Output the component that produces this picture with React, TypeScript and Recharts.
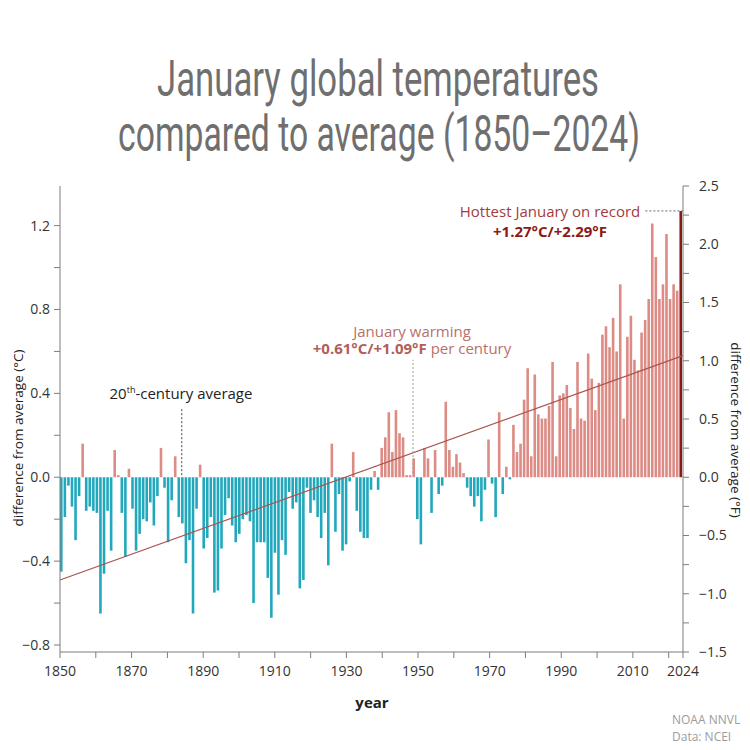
import { Bar, Cell, ComposedChart, ReferenceLine, XAxis, YAxis } from 'recharts';

// January anomalies vs 20th-century average, °C
const firstYear = 1850;
const anomalies = [
  -0.45, -0.19, -0.04, -0.14, -0.30, -0.09, 0.16, -0.16, -0.14, -0.16, // 1850s
  -0.17, -0.65, -0.46, -0.16, -0.35, 0.13, 0.01, -0.17, -0.38, 0.04, // 1860s
  -0.15, -0.35, -0.27, -0.20, -0.21, -0.12, -0.23, -0.09, 0.14, -0.05, // 1870s
  -0.31, -0.11, 0.10, -0.19, -0.22, -0.41, -0.30, -0.65, -0.15, 0.06, // 1880s
  -0.34, -0.29, -0.19, -0.55, -0.54, -0.34, -0.18, -0.10, -0.23, -0.31, // 1890s
  -0.27, -0.20, -0.18, -0.21, -0.60, -0.31, -0.31, -0.31, -0.48, -0.67, // 1900s
  -0.36, -0.56, -0.30, -0.37, -0.07, -0.15, -0.12, -0.53, -0.49, -0.05, // 1910s
  -0.17, -0.11, -0.19, -0.29, -0.17, -0.42, 0.16, -0.26, -0.08, -0.35, // 1920s
  -0.32, -0.02, 0.12, -0.16, -0.26, -0.29, -0.29, -0.06, 0.03, -0.06, // 1930s
  0.14, 0.19, 0.31, 0.12, 0.32, 0.21, 0.19, 0.01, 0.01, 0.09, // 1940s
  -0.20, -0.32, 0.14, 0.09, -0.17, 0.13, -0.08, -0.04, 0.36, 0.13, // 1950s
  0.05, 0.11, 0.07, 0.02, -0.05, -0.09, -0.14, -0.09, -0.21, -0.06, // 1960s
  0.18, -0.03, -0.19, 0.31, -0.08, 0.05, -0.01, 0.25, 0.12, 0.16, // 1970s
  0.37, 0.52, 0.10, 0.49, 0.30, 0.28, 0.28, 0.34, 0.55, 0.10, // 1980s
  0.39, 0.40, 0.44, 0.33, 0.23, 0.55, 0.28, 0.27, 0.59, 0.47, // 1990s
  0.32, 0.45, 0.68, 0.72, 0.62, 0.76, 0.60, 0.92, 0.28, 0.67, // 2000s
  0.77, 0.56, 0.51, 0.69, 0.75, 0.85, 1.21, 1.05, 0.85, 0.92, // 2010s
  1.16, 0.85, 0.92, 0.89, 1.27, // 2020s
];
const years = anomalies.map((_, i) => firstYear + i);
const recordYear = 2024;

// linear trend, +0.61°C per century
const trendYears = [1850, 2024];
const trendValues = [-0.49, 0.58];

const fDomain = [-1.5, 2.5];
const cDomain = fDomain.map((f) => f / 1.8);
const cTicks = [-0.8, -0.6, -0.4, -0.2, 0, 0.2, 0.4, 0.6, 0.8, 1.0, 1.2];
const cLabelled = [-0.8, -0.4, 0, 0.4, 0.8, 1.2];
const fTicks = [-1.5, -1.25, -1, -0.75, -0.5, -0.25, 0, 0.25, 0.5, 0.75, 1, 1.25, 1.5, 1.75, 2, 2.25, 2.5];
const fLabelled = [-1.5, -1, -0.5, 0, 0.5, 1, 1.5, 2, 2.5];
const yearTicks = [1850, 1860, 1870, 1880, 1890, 1900, 1910, 1920, 1930, 1940, 1950, 1960, 1970, 1980, 1990, 2000, 2010, 2020, 2024];
const yearLabelled = [1850, 1870, 1890, 1910, 1930, 1950, 1970, 1990, 2010, 2024];

const rows = years.map((year, i) => ({ year, value: anomalies[i] }));

const COLD = '#22a8bd';
const WARM = '#dc8b85';
const RECORD = '#8c1a14';
const AXIS = '#7d7d7d';
const FONT = "'Open Sans', 'Noto Sans', sans-serif";

const fmt = (v: number) => (v < 0 ? '\u2212' + Math.abs(v).toFixed(1) : v.toFixed(1));
const near = (list: number[], v: number) => list.some((t) => Math.abs(t - v) < 1e-6);

const tickStyle = { fill: '#333', fontSize: 14, fontFamily: FONT };

// condensed title: Roboto squeezed horizontally
const TITLE_SQUEEZE = 0.69;

function Note({ x, y, children, style }: { x: number; y: number; children: any; style?: any }) {
  return (
    <div
      style={{
        position: 'absolute',
        left: x,
        top: y,
        transform: 'translate(-50%, -50%)',
        whiteSpace: 'nowrap',
        fontFamily: FONT,
        fontSize: 15,
        lineHeight: 1,
        ...style,
      }}
    >
      {children}
    </div>
  );
}

export default function App() {
  return (
    <div style={{ position: 'absolute', left: 0, top: 0, width: 750, height: 750, background: '#fff' }}>
      <svg width={750} height={175} style={{ position: 'absolute', left: 0, top: 0 }}>
        <g transform={`translate(378 96) scale(${TITLE_SQUEEZE} 1)`}>
          <text x={0} y={0} textAnchor="middle" fontSize={50} fontFamily="Roboto" fill="#6f6f6f"
            textLength={442 / TITLE_SQUEEZE} lengthAdjust="spacingAndGlyphs">
            January global temperatures
          </text>
        </g>
        <g transform={`translate(379 151) scale(${TITLE_SQUEEZE} 1)`}>
          <text x={0} y={0} textAnchor="middle" fontSize={50} fontFamily="Roboto" fill="#6f6f6f"
            textLength={522 / TITLE_SQUEEZE} lengthAdjust="spacingAndGlyphs">
            compared to average (1850–2024)
          </text>
        </g>
      </svg>

      <div style={{ position: 'absolute', left: 0, top: 0 }}>
        <ComposedChart width={750} height={750} data={rows} margin={{ top: 186, right: 0, bottom: 68, left: 0 }}>
          <XAxis xAxisId="bars" dataKey="year" hide height={0} />
          <XAxis
            xAxisId="yr"
            dataKey="year"
            type="number"
            domain={[1850, 2024]}
            allowDataOverflow
            ticks={yearTicks}
            interval={0}
            height={30}
            stroke={AXIS}
            tickSize={6}
            tickMargin={8}
            tick={tickStyle}
            tickFormatter={(v: number) => (near(yearLabelled, v) ? String(v) : '')}
          />
          <YAxis
            yAxisId="c"
            orientation="left"
            width={60}
            domain={cDomain}
            allowDataOverflow
            ticks={cTicks}
            interval={0}
            stroke={AXIS}
            tickSize={6}
            tickMargin={4}
            tick={tickStyle}
            tickFormatter={(v: number) => (near(cLabelled, v) ? fmt(v) : '')}
          />
          <YAxis
            yAxisId="f"
            orientation="right"
            width={67}
            domain={fDomain}
            allowDataOverflow
            ticks={fTicks}
            interval={0}
            stroke={AXIS}
            tickSize={6}
            tickMargin={10}
            tick={tickStyle}
            tickFormatter={(v: number) => (near(fLabelled, v) ? fmt(v) : '')}
          />
          <Bar xAxisId="bars" yAxisId="c" dataKey="value" barSize={2.6} isAnimationActive={false}>
            {rows.map((r) => (
              <Cell key={r.year} fill={r.year === recordYear ? RECORD : r.value < 0 ? COLD : WARM} />
            ))}
          </Bar>
          <ReferenceLine
            xAxisId="yr"
            yAxisId="c"
            segment={[{ x: trendYears[0], y: trendValues[0] }, { x: trendYears[1], y: trendValues[1] }]}
            stroke="#a9544d"
            strokeWidth={1.2}
            ifOverflow="visible"
          />
          <ReferenceLine
            xAxisId="yr"
            yAxisId="c"
            segment={[{ x: 1884, y: 0.01 }, { x: 1884, y: 0.33 }]}
            stroke="#444"
            strokeDasharray="2 2"
            ifOverflow="visible"
          />
          <ReferenceLine
            xAxisId="yr"
            yAxisId="c"
            segment={[{ x: 1948.6, y: 0.02 }, { x: 1948.6, y: 0.56 }]}
            stroke="#999"
            strokeDasharray="2 2"
            ifOverflow="visible"
          />
          <ReferenceLine
            xAxisId="yr"
            yAxisId="c"
            segment={[{ x: 2013.5, y: 1.27 }, { x: 2024, y: 1.27 }]}
            stroke="#666"
            strokeDasharray="2 2"
            ifOverflow="visible"
          />
        </ComposedChart>
      </div>

      <svg width={750} height={750} style={{ position: 'absolute', left: 0, top: 0, pointerEvents: 'none' }}>
        <text x={18} y={438} transform="rotate(-90 18 438)" textAnchor="middle" dominantBaseline="central"
          fontSize={13.5} fontFamily={FONT} fill="#222">
          difference from average (°C)
        </text>
        <text x={736} y={430} transform="rotate(90 736 430)" textAnchor="middle" dominantBaseline="central"
          fontSize={13.5} fontFamily={FONT} fill="#222">
          difference from average (°F)
        </text>
      </svg>

      <Note x={181} y={393} style={{ color: '#222' }}>
        20<sup style={{ fontSize: 9 }}>th</sup>-century average
      </Note>
      <Note x={412} y={331} style={{ color: '#b8706a' }}>January warming</Note>
      <Note x={412} y={348} style={{ color: '#b8706a' }}>
        <b style={{ color: '#b35e58' }}>+0.61°C/+1.09°F</b> per century
      </Note>
      <Note x={550} y={211} style={{ color: '#a33b3b' }}>Hottest January on record</Note>
      <Note x={550} y={231} style={{ color: '#8c1a14', fontWeight: 700 }}>+1.27°C/+2.29°F</Note>

      <Note x={372} y={702} style={{ color: '#222', fontWeight: 700 }}>year</Note>

      <div style={{ position: 'absolute', left: 672, top: 711, fontFamily: FONT, fontSize: 12, lineHeight: '17px', color: '#9c9c9c' }}>
        NOAA NNVL
        <br />
        Data: NCEI
      </div>
    </div>
  );
}
